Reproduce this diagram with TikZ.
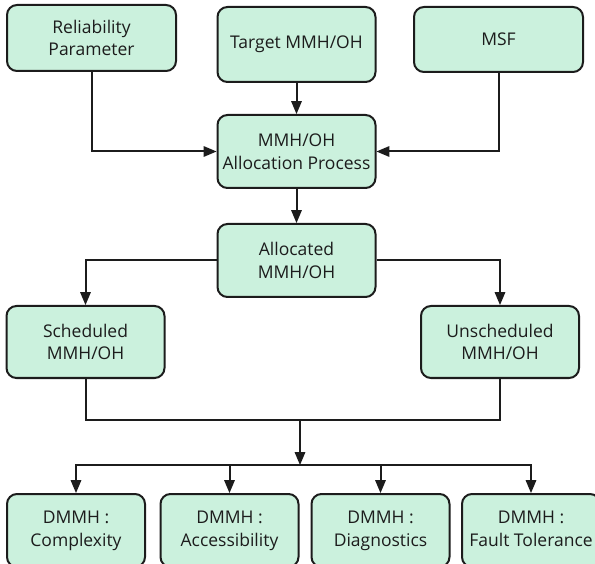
\documentclass[tikz,border=0pt]{standalone}
\usepackage{fontspec}
\setmainfont{Open Sans}
\usepackage{tikz}
\usetikzlibrary{arrows}
\usetikzlibrary{positioning}

\definecolor{mint}{RGB}{203,241,221}
\definecolor{ink}{RGB}{28,28,28}

\begin{document}
\begin{tikzpicture}[x=1pt,y=-1pt,box/.style={rectangle, rounded corners=10pt, draw=ink, line width=2pt, fill=mint, text=ink, align=center, inner sep=0pt, minimum height=73pt, font=\fontsize{17.5}{22.5}\selectfont}]
    \tikzset{link/.style={draw=ink, line width=2pt, >=triangle 45}}
    \clip (0,0) rectangle (595,564);
    \def \bw {158} \def \dw {138}

    % inputs
    \node[box, minimum width=169pt, minimum height=66pt] (rel) at (91.5,38) {Reliability\\Parameter};
    \node[box, minimum width=\bw pt, minimum height=75pt] (tgt) at (296.5,44.5) {Target MMH/OH};
    \node[box, minimum width=169pt, minimum height=65pt] (msf) at (498.5,39.5) {MSF};

    \node[box, minimum width=\bw pt] (proc) at (296.5,151.5) {MMH/OH\\Allocation Process};
    \node[box, minimum width=\bw pt] (alloc) at (296.5,260.5) {Allocated\\MMH/OH};

    \node[box, minimum width=\bw pt, minimum height=72pt] (sch) at (85.5,342) {Scheduled\\MMH/OH};
    \node[box, minimum width=\bw pt, minimum height=72pt] (uns) at (500,342) {Unscheduled\\MMH/OH};

    % DMMH boxes, strut keeps the baselines level
    \foreach \x/\t [count=\i] in {76/Complexity, 229.5/Accessibility, 380.5/Diagnostics, 531/Fault Tolerance} {
    \node[box, minimum width=\dw pt] (d\i) at (\x,530.5) {\strut DMMH :\\\t\strut};
    }

    \coordinate (join) at (300,420);
    \coordinate (bus) at (300,465);

    \draw[link, ->] (rel) |- (proc);
    \draw[link, ->] (msf) |- (proc);
    \draw[link, ->] (tgt) -- (proc);
    \draw[link, ->] (proc) -- (alloc);
    \draw[link, ->] (alloc) -| (sch);
    \draw[link, ->] (alloc) -| (uns);

    \draw[link] (sch) |- (join) -| (uns);
    \draw[link, ->] (join) -- (bus);
    \foreach \i in {1,...,4} {
    \draw[link, ->] (bus) -| (d\i);
    }
\end{tikzpicture}
\end{document}
